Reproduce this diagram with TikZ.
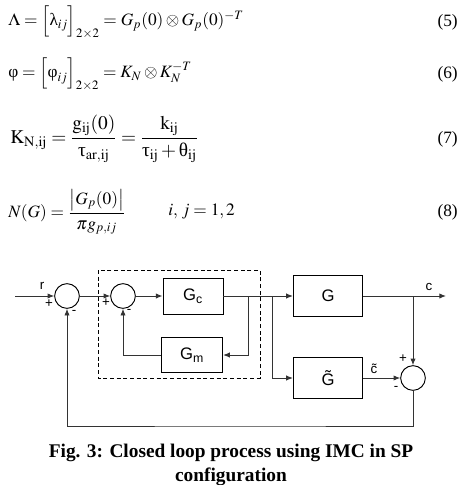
\documentclass[tikz,border=0pt]{standalone}
\usepackage{amsmath}
\usepackage{mathptmx}
\usepackage{fontspec}
\setmainfont{Liberation Serif}
\setsansfont{Liberation Sans}
\usetikzlibrary{positioning, arrows.meta}

\newcommand{\gr}[1]{\text{\normalfont #1}}

\begin{document}
\begin{tikzpicture}[
    x=0.75pt, y=-0.75pt,
    >={Latex[length=5pt, width=4pt]},
    block/.style={draw, line width=0.7pt, minimum width=45pt, minimum height=27pt, font=\sffamily\fontsize{12.5}{14}\selectfont},
    plant/.style={block, minimum width=52pt, minimum height=31pt},
    sumnode/.style={circle, draw, line width=0.7pt, minimum size=18.5pt, inner sep=0pt},
    sign/.style={font=\sffamily\fontsize{10}{10}\selectfont, inner sep=0pt},
    sig/.style={font=\sffamily\fontsize{10}{10}\selectfont, inner sep=1pt},
    eqn/.style={anchor=west, inner sep=0pt, font=\fontsize{13}{15}\selectfont},
    eqno/.style={anchor=east, inner sep=0pt, font=\fontsize{13}{15}\selectfont},
    wire/.style={line width=0.7pt, draw=black!80}
]
    \useasboundingbox (0,0) rectangle (459,485);

    % Equations
    \node[eqn] (eqlambda) at (8,22) {$\Lambda = \Bigl[\gr{λ}_{ij}\Bigr]_{2\times 2} = G_p(0)\otimes G_p(0)^{-T}$};
    \node[eqn] (eqphi) at (8,74) {$\gr{φ} = \Bigl[\gr{φ}_{ij}\Bigr]_{2\times 2} = K_N\otimes K_N^{-T}$};
    \node[eqn, font=\fontsize{14.5}{16}\selectfont] (eqkn) at (10,139) {$\mathrm{K}_{\mathrm{N,ij}} = \dfrac{\mathrm{g}_{\mathrm{ij}}(0)}{\gr{τ}_{\mathrm{ar,ij}}} = \dfrac{\mathrm{k}_{\mathrm{ij}}}{\gr{τ}_{\mathrm{ij}} + \gr{θ}_{\mathrm{ij}}}$};
    \node[eqn] (eqng) at (8,212) {$N(G) = \dfrac{\bigl|G_p(0)\bigr|}{\pi g_{p,ij}}$};
    \node[eqn] (eqrange) at (168,212) {$i,\, j = 1, 2$};

    % Equation numbers
    \foreach \n/\y in {5/22, 6/74, 7/139, 8/212} {
        \node[eqno] (num\n) at (458,\y) {(\n)};
    }

    % Blocks and summing junctions
    \node[sumnode] (sum1) at (67,296) {};
    \node[sumnode] (sum2) at (123,296) {};
    \node[block] (Gc) at (193,296) {$\text{G}_{\text{c}}$};
    \node[block, minimum width=46pt, minimum height=26pt] (Gm) at (192,355) {$\text{G}_{\text{m}}$};
    \node[plant] (G) at (328,296) {G};
    \node[plant] (Gt) at (328,378) {\~{G}};
    \node[sumnode] (sum3) at (413,378) {};

    % Controller boundary
    \draw[line width=0.6pt, dash pattern=on 3pt off 2pt] (98,270) rectangle (260,378);

    % Branch points and free ends
    \coordinate (rin) at (15,296);
    \coordinate (cout) at (446,296);
    \coordinate (jm) at (248,296);
    \coordinate (jt) at (272,296);
    \coordinate (jc) at (413,296);
    \coordinate (base) at (240,426);

    % Signal paths
    \draw[wire,->] (rin) -- (sum1.west);
    \draw[wire,->] (sum1) -- (sum2);
    \draw[wire,->] (sum2) -- (Gc);
    \draw[wire,->] (Gc) -- (G);
    \draw[wire,->] (jm) |- (Gm.east);
    \draw[wire,->] (Gm.west) -| (sum2.south);
    \draw[wire,->] (jt) |- (Gt.west);
    \draw[wire,->] (G) -- (cout);
    \draw[wire,->] (jc) -- (sum3.north);
    \draw[wire,->] (Gt) -- (sum3);
    \draw[wire,->] (sum3.south) |- (base) -| (sum1.south);

    % Signal names and signs
    \node[sig] (rlabel) at (42,286) {r};
    \node[sig] (clabel) at (429,287) {c};
    \node[sig] (ctlabel) at (374,369) {\~{c}};
    \node[sign] (p1) at (49,304) {+};
    \node[sign] (m1) at (74,312) {-};
    \node[sign] (p2) at (106,303) {+};
    \node[sign] (m2) at (129,311) {-};
    \node[sign] (p3) at (403,359) {+};
    \node[sign] (m3) at (396,388) {-};

    % Caption
    \node[font=\bfseries\fontsize{14.5}{18}\selectfont, align=center] (caption) at (231,465) {Fig. 3: Closed loop process using IMC in SP\\configuration};

\end{tikzpicture}
\end{document}
